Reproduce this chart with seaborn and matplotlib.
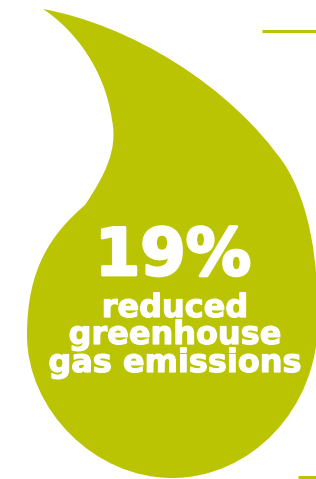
import numpy as np
import matplotlib
matplotlib.use("Agg")
import matplotlib.pyplot as plt
import matplotlib.patheffects as pe
import seaborn as sns
from matplotlib.path import Path
from matplotlib.patches import PathPatch

# --- content ---
value_pct = 19
caption_lines = ["reduced", "greenhouse", "gas emissions"]
drop_color = "#bbc402"

# drop outline (pixel space, y downwards): tip, right flank, bottom bowl, left neck
drop_vertices = [
    (43, 9),
    (130, 25), (230, 85), (285, 165),
    (310, 205), (318, 260), (318, 320),
    (318, 410), (250, 478), (172, 478),
    (95, 478), (27, 410), (27, 335),
    (27, 270), (50, 235), (85, 205),
    (105, 175), (118, 150), (112, 120),
    (105, 70), (75, 30), (43, 9),
]
drop_codes = [Path.MOVETO] + [Path.CURVE4] * (len(drop_vertices) - 1)

sns.set_style("white")
plt.rcParams["font.family"] = ["DejaVu Sans"]

fig = plt.figure(figsize=(3.16, 4.79), dpi=100)
ax = fig.add_axes([0, 0, 1, 1])
ax.set_xlim(0, 316)
ax.set_ylim(479, 0)
ax.axis("off")

ax.add_patch(PathPatch(Path(drop_vertices, drop_codes),
                       facecolor=drop_color, edgecolor="none"))

# small rule lines at the right edge
ax.plot([262, 316], [31, 31], color=drop_color, lw=2.2, solid_capstyle="butt")
ax.plot([298, 316], [477, 477], color=drop_color, lw=2.2, solid_capstyle="butt")

ax.text(173, 275, f"{value_pct}%", ha="center", va="baseline",
        color="white", fontsize=47, fontweight="bold",
        path_effects=[pe.Stroke(linewidth=2.0, foreground="white"), pe.Normal()])
heavy = [pe.Stroke(linewidth=0.9, foreground="white"), pe.Normal()]
baselines = [317, 344, 372]
for line, yb in zip(caption_lines, baselines):
    ax.text(175, yb, line, ha="center", va="baseline",
            color="white", fontsize=23, fontweight="bold",
            path_effects=heavy)

fig.savefig("out.png", dpi=100)
